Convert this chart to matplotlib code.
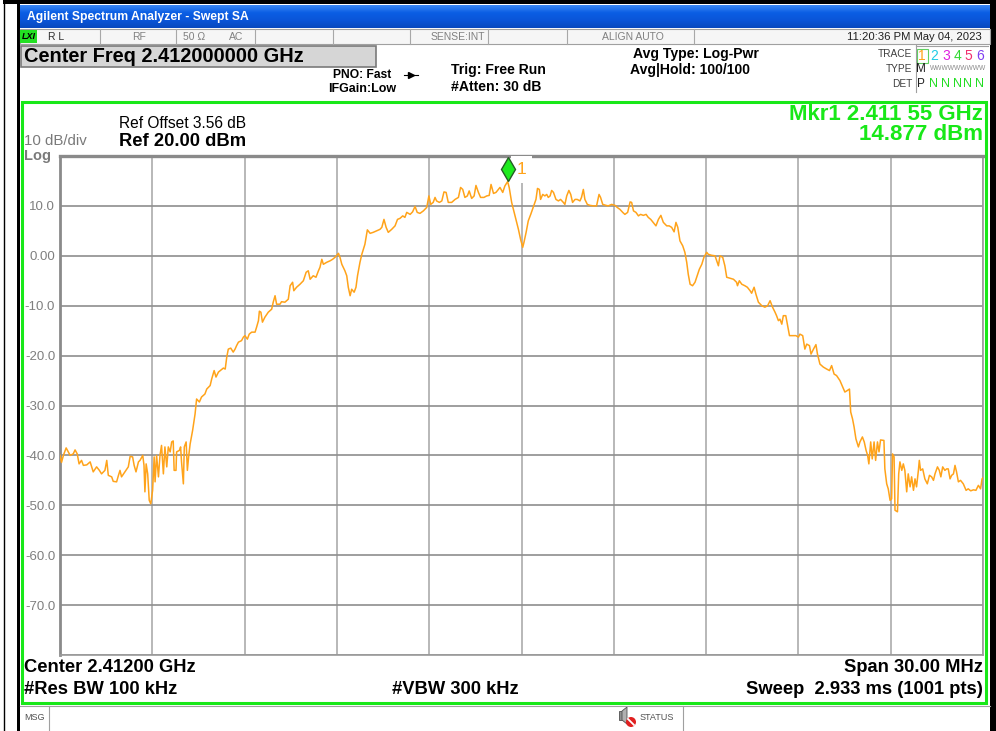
import numpy as np
import matplotlib
matplotlib.use("Agg")
import matplotlib.pyplot as plt
from matplotlib import transforms
from matplotlib.patches import Rectangle, Circle, Polygon

plt.rcParams["font.family"] = ["Liberation Sans", "DejaVu Sans"]

# trace 1, frequency offset from centre (MHz) and level (dBm)
freq_mhz = [
    -15.00, -14.95, -14.89, -14.80, -14.73, -14.67, -14.57, -14.51, -14.44, -14.38,
    -14.30, -14.24, -14.13, -14.02, -13.97, -13.92, -13.81, -13.72, -13.65, -13.54,
    -13.48, -13.43, -13.32, -13.27, -13.16, -13.10, -13.05, -13.00, -12.89, -12.78,
    -12.72, -12.64, -12.59, -12.53, -12.45, -12.40, -12.31, -12.27, -12.24, -12.20,
    -12.15, -12.10, -12.05, -11.99, -11.94, -11.91, -11.86, -11.80, -11.75, -11.70,
    -11.64, -11.59, -11.53, -11.48, -11.42, -11.37, -11.32, -11.29, -11.23, -11.21,
    -11.12, -11.08, -11.05, -10.99, -10.96, -10.90, -10.86, -10.82, -10.77, -10.69,
    -10.61, -10.56, -10.47, -10.40, -10.29, -10.23, -10.12, -10.07, -9.99, -9.93,
    -9.85, -9.77, -9.69, -9.63, -9.58, -9.53, -9.45, -9.37, -9.31, -9.26,
    -9.20, -9.10, -9.04, -8.99, -8.91, -8.85, -8.77, -8.66, -8.61, -8.55,
    -8.52, -8.47, -8.42, -8.34, -8.23, -8.12, -8.07, -8.01, -7.96, -7.85,
    -7.80, -7.69, -7.58, -7.52, -7.44, -7.40, -7.31, -7.20, -7.09, -7.00,
    -6.93, -6.87, -6.77, -6.68, -6.60, -6.55, -6.49, -6.44, -6.33, -6.22,
    -6.14, -6.06, -5.95, -5.90, -5.84, -5.74, -5.68, -5.63, -5.57, -5.52,
    -5.44, -5.38, -5.33, -5.25, -5.19, -5.09, -5.01, -4.92, -4.82, -4.71,
    -4.60, -4.54, -4.47, -4.40, -4.33, -4.22, -4.11, -4.03, -3.95, -3.86,
    -3.79, -3.73, -3.62, -3.54, -3.46, -3.39, -3.30, -3.19, -3.08, -3.01,
    -2.95, -2.87, -2.81, -2.76, -2.67, -2.59, -2.52, -2.45, -2.38, -2.27,
    -2.16, -2.05, -1.98, -1.91, -1.84, -1.76, -1.70, -1.62, -1.54, -1.48,
    -1.40, -1.33, -1.22, -1.13, -1.05, -0.99, -0.91, -0.83, -0.75, -0.70,
    -0.61, -0.54, -0.45, -0.40, -0.32, -0.21, -0.10, -0.03, 0.04, 0.08,
    0.15, 0.22, 0.30, 0.38, 0.47, 0.52, 0.58, 0.62, 0.69, 0.76,
    0.82, 0.87, 0.93, 0.98, 1.04, 1.12, 1.20, 1.27, 1.36, 1.41,
    1.47, 1.54, 1.60, 1.66, 1.74, 1.81, 1.90, 1.95, 2.01, 2.06,
    2.14, 2.23, 2.34, 2.44, 2.52, 2.57, 2.64, 2.75, 2.82, 2.93,
    3.04, 3.11, 3.20, 3.29, 3.36, 3.45, 3.53, 3.58, 3.64, 3.72,
    3.80, 3.87, 3.96, 4.05, 4.12, 4.20, 4.28, 4.37, 4.45, 4.53,
    4.61, 4.72, 4.80, 4.88, 4.96, 5.02, 5.08, 5.15, 5.24, 5.31,
    5.37, 5.42, 5.48, 5.56, 5.64, 5.71, 5.78, 5.86, 5.93, 6.02,
    6.07, 6.18, 6.29, 6.40, 6.45, 6.54, 6.61, 6.67, 6.78, 6.89,
    6.99, 7.02, 7.08, 7.16, 7.26, 7.34, 7.43, 7.48, 7.56, 7.62,
    7.70, 7.81, 7.91, 8.00, 8.08, 8.16, 8.24, 8.29, 8.35, 8.40,
    8.46, 8.51, 8.59, 8.64, 8.71, 8.81, 8.92, 9.00, 9.05, 9.14,
    9.21, 9.27, 9.36, 9.41, 9.49, 9.57, 9.62, 9.70, 9.81, 9.92,
    10.01, 10.08, 10.16, 10.24, 10.35, 10.44, 10.51, 10.59, 10.66, 10.70,
    10.76, 10.81, 10.87, 10.95, 11.00, 11.08, 11.14, 11.20, 11.25, 11.29,
    11.35, 11.40, 11.46, 11.51, 11.57, 11.62, 11.67, 11.78, 11.81, 11.87,
    11.92, 11.98, 12.03, 12.06, 12.11, 12.14, 12.22, 12.26, 12.30, 12.36,
    12.41, 12.46, 12.52, 12.57, 12.63, 12.68, 12.74, 12.79, 12.84, 12.90,
    12.93, 12.97, 13.04, 13.11, 13.19, 13.26, 13.33, 13.39, 13.44, 13.52,
    13.58, 13.63, 13.69, 13.76, 13.82, 13.87, 13.93, 13.98, 14.04, 14.09,
    14.14, 14.20, 14.27, 14.36, 14.45, 14.52, 14.60, 14.69, 14.77, 14.85,
    14.92, 14.97, 15.00,
]
level_dbm = [
    -40.0, -41.4, -40.0, -38.5, -39.3, -40.0, -39.7, -38.9, -39.7, -41.7,
    -41.0, -42.0, -41.9, -41.3, -42.3, -43.3, -42.3, -43.0, -43.7, -43.0,
    -41.0, -44.0, -44.3, -45.2, -45.3, -44.0, -43.0, -44.3, -43.3, -42.3,
    -40.2, -40.3, -42.0, -43.3, -41.3, -41.0, -40.0, -42.0, -47.3, -41.7,
    -43.7, -49.0, -49.7, -47.0, -40.3, -45.3, -40.0, -44.3, -40.0, -38.0,
    -43.7, -38.3, -42.3, -38.3, -39.3, -37.3, -37.1, -43.0, -43.0, -39.3,
    -39.0, -38.3, -41.3, -45.7, -38.3, -37.3, -43.0, -40.3, -37.7, -35.0,
    -31.7, -28.7, -29.3, -28.3, -27.7, -26.7, -26.0, -24.7, -23.0, -24.3,
    -23.3, -22.9, -22.5, -22.7, -20.3, -18.7, -18.5, -19.3, -18.7, -18.0,
    -17.3, -17.0, -16.3, -16.0, -16.7, -15.7, -15.3, -15.3, -14.3, -13.0,
    -11.1, -11.3, -13.3, -12.3, -11.3, -10.7, -9.3, -8.0, -9.7, -9.7,
    -9.2, -9.3, -8.7, -6.0, -5.3, -7.0, -6.3, -5.7, -5.0, -3.3,
    -3.0, -4.7, -4.0, -4.3, -3.0, -2.3, -0.7, -1.7, -1.3, -1.0,
    -0.7, -0.3, 0.5, -0.3, -1.7, -3.0, -4.0, -6.3, -8.0, -6.7,
    -7.3, -6.3, -4.0, -1.3, 0.3, 2.3, 5.2, 4.5, 4.7, 5.0,
    5.3, 5.7, 7.3, 5.7, 4.7, 5.3, 6.0, 7.3, 7.5, 8.0,
    7.7, 8.7, 8.3, 8.8, 9.9, 8.7, 8.5, 9.0, 9.7, 12.0,
    10.3, 10.7, 11.7, 11.0, 10.7, 11.0, 12.8, 12.7, 10.7, 10.7,
    11.3, 11.7, 13.7, 13.3, 11.7, 12.0, 13.0, 11.5, 12.0, 14.1,
    12.7, 11.7, 11.7, 12.0, 12.1, 14.3, 12.5, 12.7, 13.3, 13.7,
    12.7, 14.0, 14.877, 13.7, 10.7, 8.0, 5.3, 3.3, 1.7, 2.7,
    4.7, 7.0, 8.3, 9.7, 11.3, 13.5, 13.3, 11.3, 12.3, 12.0,
    12.3, 11.7, 12.0, 13.1, 12.7, 11.3, 11.0, 11.3, 10.7, 10.3,
    12.0, 13.1, 12.3, 10.7, 11.3, 11.3, 11.0, 11.7, 13.3, 11.3,
    10.3, 10.1, 10.0, 10.0, 12.3, 11.7, 10.3, 10.1, 10.0, 10.3,
    10.1, 9.7, 9.3, 8.7, 8.3, 8.7, 10.8, 10.7, 9.0, 8.7,
    8.0, 8.3, 8.1, 8.3, 7.7, 7.3, 6.7, 6.0, 7.3, 8.1,
    6.7, 6.0, 6.0, 5.7, 4.8, 6.7, 5.7, 3.0, 2.0, 0.7,
    -1.3, -3.7, -5.7, -6.0, -5.3, -4.0, -2.7, -1.7, -0.3, 0.7,
    0.3, 0.1, 0.0, -2.0, 0.0, -0.3, -2.0, -4.3, -4.5, -4.7,
    -5.3, -6.0, -5.0, -5.7, -6.0, -6.3, -7.0, -7.5, -6.3, -7.7,
    -9.3, -10.0, -10.3, -10.0, -9.0, -10.3, -11.3, -12.0, -13.0, -12.7,
    -13.7, -12.0, -12.0, -13.7, -16.0, -16.0, -16.0, -16.3, -15.7, -16.0,
    -18.7, -17.7, -18.0, -19.7, -18.7, -17.8, -19.7, -21.7, -22.3, -22.7,
    -23.0, -22.0, -23.7, -24.0, -25.0, -26.3, -27.3, -27.0, -26.7, -31.3,
    -32.7, -34.3, -36.7, -38.3, -37.3, -36.3, -37.3, -39.0, -40.0, -41.7,
    -37.3, -40.7, -37.3, -41.0, -37.3, -39.3, -36.9, -37.0, -42.7, -45.7,
    -46.7, -49.0, -48.7, -39.7, -40.3, -51.0, -51.3, -43.7, -41.3, -43.0,
    -41.7, -43.0, -47.3, -43.7, -46.3, -44.3, -47.0, -44.7, -46.3, -43.0,
    -41.0, -43.0, -42.7, -44.7, -45.7, -44.0, -44.3, -45.0, -43.7, -42.3,
    -43.0, -44.3, -42.3, -43.0, -42.7, -42.7, -44.7, -44.0, -43.7, -42.0,
    -43.3, -45.3, -45.0, -45.7, -47.0, -46.7, -47.1, -46.9, -47.0, -46.0,
    -46.7, -44.7, -44.5,
]

center_ghz = 2.412
span_mhz = 30.0
ref_level = 20.0
db_per_div = 10
mkr_freq_mhz = -0.45
mkr_level = 14.877
y_ticks = [20, 10, 0, -10, -20, -30, -40, -50, -60, -70, -80]
x_ticks = [-15, -12, -9, -6, -3, 0, 3, 6, 9, 12, 15]

W, H = 996, 731
fig = plt.figure(figsize=(W / 100, H / 100), dpi=100, facecolor="white")

# background layer in pixel units for the instrument screen furniture
bg = fig.add_axes([0, 0, 1, 1])
bg.set_xlim(0, W)
bg.set_ylim(H, 0)
bg.axis("off")

# window frame
bg.add_patch(Rectangle((3, 0), W - 3, 4, fc="black", ec="none"))
bg.plot([3.5, 3.5], [0, H], color="black", lw=1)
bg.add_patch(Rectangle((17, 4), 3, H - 4, fc="black", ec="none"))
bg.add_patch(Rectangle((990, 0), 6, H, fc="black", ec="none"))

# title bar gradient
grad = np.linspace(0, 1, 50).reshape(-1, 1)
cmap = matplotlib.colors.LinearSegmentedColormap.from_list(
    "xp", ["#3A86F2", "#0B5EE4", "#0A55D8", "#0849BE"])
bg.imshow(grad, extent=(20, 990, 28, 5), aspect="auto", cmap=cmap, zorder=1)
bg.set_xlim(0, W)
bg.set_ylim(H, 0)
bg.text(27, 17, "Agilent Spectrum Analyzer - Swept SA", color="white",
        fontsize=8.7, fontweight="bold", va="center", zorder=2)

# status row
bg.add_patch(Rectangle((20, 29), 970, 15, fc="#F6F6F6", ec="#A0A0A0", lw=0.8))
for sx in [100, 176, 255, 333, 410, 488, 567, 694]:
    bg.plot([sx, sx], [29, 44], color="#A8A8A8", lw=0.8)
bg.add_patch(Rectangle((20, 30), 17, 13, fc="#22E022", ec="none"))
bg.text(28.5, 36.5, "LXI", fontsize=6.5, fontweight="bold", style="italic",
        ha="center", va="center")
bg.text(48, 36.5, "R L", fontsize=7.5, color="#303030", va="center")
bg.text(139, 36.5, "RF", fontsize=7.5, color="#808080", va="center", ha="center")
bg.text(183, 36.5, "50 Ω", fontsize=7.5, color="#808080", va="center")
bg.text(229, 36.5, "AC", fontsize=7.5, color="#808080", va="center")
bg.text(485, 36.5, "SENSE:INT", fontsize=7.5, color="#808080", va="center", ha="right")
bg.text(633, 36.5, "ALIGN AUTO", fontsize=7.5, color="#808080", va="center", ha="center")
bg.text(982, 36.5, "11:20:36 PM May 04, 2023", fontsize=8.1, color="#202020",
        va="center", ha="right")

# settings block
bg.add_patch(Rectangle((21, 46), 355, 21, fc="#D6D6D6", ec="#7A7A7A", lw=1.2))
bg.text(24, 57, f"Center Freq {center_ghz:.9f} GHz", fontsize=14.4,
        fontweight="bold", va="center")
bg.text(362, 75, "PNO: Fast", fontsize=8.7, fontweight="bold", ha="center", va="center")
bg.text(362, 89, "IFGain:Low", fontsize=9, fontweight="bold", ha="center", va="center")
bg.plot([404, 418], [75, 75], color="black", lw=0.8)
bg.plot([411], [75], marker=">", ms=4, color="black")
bg.text(451, 70, "Trig: Free Run", fontsize=10.1, fontweight="bold", va="center")
bg.text(451, 87, "#Atten: 30 dB", fontsize=10.1, fontweight="bold", va="center")
bg.text(633, 54, "Avg Type: Log-Pwr", fontsize=10.1, fontweight="bold", va="center")
bg.text(630, 70, "Avg|Hold: 100/100", fontsize=10.1, fontweight="bold", va="center")

# trace legend box
bg.plot([915.5, 915.5], [45, 92], color="#A0A0A0", lw=0.8)
bg.plot([915.5, 988], [45.5, 45.5], color="#A0A0A0", lw=0.8)
bg.text(912, 54, "TRACE", fontsize=7.3, color="#404040", ha="right", va="center")
bg.text(912, 69, "TYPE", fontsize=7.3, color="#404040", ha="right", va="center")
bg.text(912, 84, "DET", fontsize=7.3, color="#404040", ha="right", va="center")
bg.add_patch(Rectangle((917, 48.5), 11, 14, fc="none", ec="#60D060", lw=0.8))
trace_cols = ["#FFA31A", "#22CCE6", "#E020E0", "#30D830", "#F0306E", "#8040F0"]
for i, (dx, c) in enumerate(zip([922, 934, 946, 957, 968, 980], trace_cols)):
    bg.text(dx, 56, str(i + 1), fontsize=10, color=c, ha="center", va="center")
bg.text(921, 69, "M", fontsize=8.5, color="#202020", ha="center", va="center")
bg.text(958, 69, "WWWWWWWWW", fontsize=4.8, color="#8A8A8A", ha="center", va="center")
bg.text(921, 84, "P", fontsize=8.5, color="#202020", ha="center", va="center")
for dx in [934, 946, 957, 968, 980]:
    bg.text(dx, 84, "N", fontsize=9, color="#22DD22", ha="center", va="center")

# graticule frame
bg.add_patch(Rectangle((22, 101.5), 964, 601, fill=False, ec="#18E818", lw=2.2))
bg.text(119, 124, "Ref Offset 3.56 dB", fontsize=11.2, va="center")
bg.text(119, 141, f"Ref {ref_level:.2f} dBm", fontsize=13.2, fontweight="bold", va="center")
bg.text(24, 141, f"{db_per_div} dB/div", fontsize=10.8, color="#7A7A7A", va="center")
bg.text(24, 156, "Log", fontsize=10.5, color="#7A7A7A", va="center", fontweight="bold")
bg.text(983, 114, "Mkr1 2.411 55 GHz", fontsize=16, fontweight="bold",
        color="#18E818", ha="right", va="center")
bg.text(983, 135, f"{mkr_level:.3f} dBm", fontsize=16, fontweight="bold",
        color="#18E818", ha="right", va="center")

bg.text(24, 667, f"Center {center_ghz:.5f} GHz", fontsize=13.2, fontweight="bold", va="center")
bg.text(24, 689, "#Res BW 100 kHz", fontsize=13.2, fontweight="bold", va="center")
bg.text(392, 689, "#VBW 300 kHz", fontsize=13.2, fontweight="bold", va="center")
bg.text(983, 667, f"Span {span_mhz:.2f} MHz", fontsize=13.2, fontweight="bold",
        ha="right", va="center")
bg.text(983, 689, "Sweep  2.933 ms (1001 pts)", fontsize=13.2, fontweight="bold",
        ha="right", va="center")

# message / status bar
bg.plot([20, 990], [706, 706], color="#A0A0A0", lw=0.8)
bg.plot([49, 49], [706, H], color="#A0A0A0", lw=0.8)
bg.plot([683, 683], [706, H], color="#A0A0A0", lw=0.8)
bg.text(24, 718, "MSG", fontsize=6.5, color="#505050", va="center")
bg.text(640, 718, "STATUS", fontsize=6.5, color="#505050", va="center")
bg.add_patch(Rectangle((619, 711), 3, 9, fc="#909090", ec="#505050", lw=0.6))
bg.add_patch(Polygon([[622, 711], [627, 707], [627, 724], [622, 720]],
                     closed=True, fc="#B0B0B0", ec="#505050", lw=0.6))
bg.add_patch(Circle((631, 722), 5, fc="#E02020", ec="none"))
bg.plot([628, 634], [719, 725], color="white", lw=1.3)

# spectrum graticule
ax = fig.add_axes([60 / W, (H - 655) / H, 923 / W, 499 / H])
ax.set_xlim(-span_mhz / 2, span_mhz / 2)
ax.set_ylim(ref_level - 10 * db_per_div, ref_level)
ax.set_xticks(x_ticks)
ax.set_yticks(y_ticks)
ax.set_xticklabels([])
ax.set_yticklabels(["" if v in (20, -80) else ("0.00" if v == 0 else f"{v:.1f}")
                    for v in y_ticks])
ax.tick_params(length=0, labelsize=9.5, labelcolor="#7F7F7F", pad=3.5)
ax.xaxis.grid(True, color="#B2B2B2", lw=1.3)
ax.yaxis.grid(True, color="#8E8E8E", lw=1.2)
for side, sp in ax.spines.items():
    sp.set_color("#9A9A9A")
    sp.set_linewidth(1.2)
ax.spines["top"].set_linewidth(2.4)
ax.spines["top"].set_color("#8A8A8A")
ax.spines["left"].set_linewidth(2.0)
ax.spines["left"].set_color("#8A8A8A")

ax.plot(freq_mhz, level_dbm, color="#FFA31A", lw=1.1, zorder=3)

# marker 1
up = transforms.offset_copy(ax.transData, fig=fig, x=0, y=12.5, units="dots")
ax.annotate("1", (mkr_freq_mhz, mkr_level), xytext=(9, 12), textcoords="offset pixels",
            color="#FFA31A", fontsize=12.5, ha="left", va="center",
            annotation_clip=False, zorder=6,
            bbox=dict(boxstyle="square,pad=0.35", fc="white", ec="none"))
ax.plot([mkr_freq_mhz], [mkr_level], marker="d", ms=12, mfc="#1DEB1D",
        mec="#245C24", mew=1.0, transform=up, clip_on=False, zorder=7)

fig.savefig("out.png", dpi=100, facecolor="white")
